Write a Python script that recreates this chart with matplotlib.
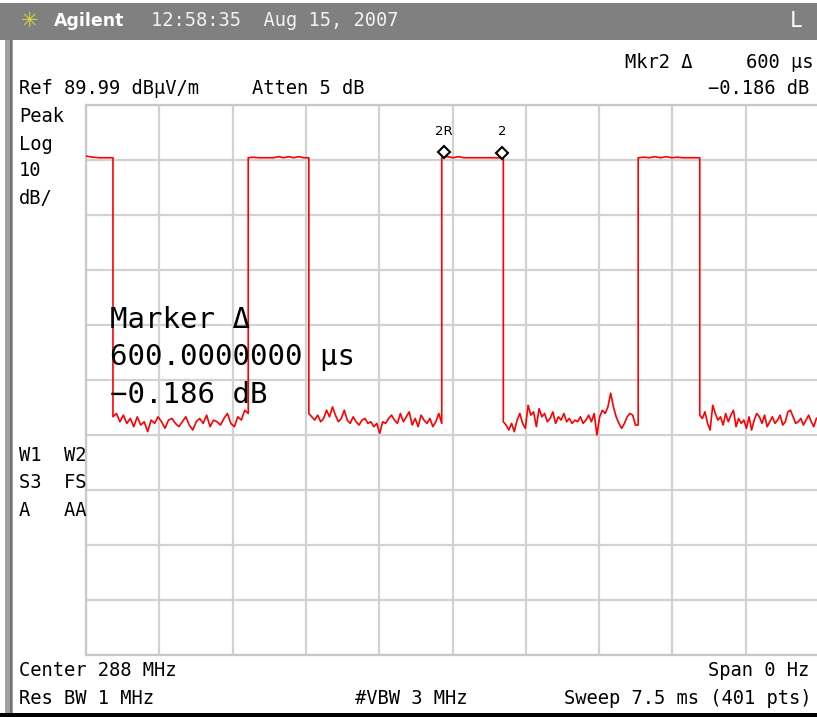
#!/usr/bin/env python3
# Agilent spectrum analyser screen: zero-span pulse capture, Mkr2 delta 600 us

import matplotlib
matplotlib.use("Agg")
import matplotlib.pyplot as plt
import matplotlib.transforms as mtransforms
from matplotlib.patches import Rectangle
import numpy as np

W, H = 817, 717

REF_LEVEL = 89.99   # dBuV/m, top graticule line
DB_PER_DIV = 10
SWEEP_MS = 7.5

# pulse edges (ms): on from t_on to t_off
pulse_on = [0.0, 1.66, 3.64, 5.65]
pulse_off = [0.276, 2.28, 4.27, 6.28]

# top of each pulse (dBuV/m)
pulse_tops = [
    [80.7, 80.5, 80.4, 80.4, 80.4],
    [80.4, 80.5, 80.4, 80.4, 80.4, 80.4, 80.6, 80.4, 80.6, 80.4, 80.6, 80.4, 80.4],
    [80.4, 80.6, 80.4, 80.6, 80.4, 80.4, 80.4, 80.4, 80.4, 80.4, 80.4, 80.4],
    [80.4, 80.5, 80.4, 80.6, 80.4, 80.6, 80.4, 80.5, 80.4, 80.4, 80.4, 80.4],
]

# noise floor between pulses (dBuV/m)
floor_1 = [33.3, 33.9, 32.4, 33.6, 32.1, 33.0, 31.5, 33.3, 31.8, 32.4, 30.6, 32.7,
           32.1, 33.3, 32.4, 31.2, 32.7, 33.0, 32.1, 31.5, 32.4, 33.3, 31.8, 30.9,
           32.4, 33.0, 32.1, 33.6, 31.5, 32.7, 32.4, 31.8, 33.0, 33.9, 32.1, 31.5,
           33.3, 32.7, 34.5, 33.9]
floor_2 = [33.9, 33.3, 32.7, 33.6, 32.4, 33.0, 34.5, 33.3, 35.1, 33.6, 32.4, 33.0,
           34.5, 32.7, 32.1, 33.3, 32.4, 31.8, 32.7, 33.0, 32.1, 32.4, 31.5, 32.1,
           30.3, 32.4, 32.1, 33.0, 33.6, 32.7, 32.1, 33.9, 32.4, 33.3, 34.2, 31.8,
           33.0, 31.5, 33.6, 32.7, 32.1, 33.0, 31.5, 32.4, 33.9, 32.1]
floor_3 = [32.4, 31.8, 30.9, 32.1, 30.6, 32.7, 33.9, 32.1, 31.2, 35.4, 33.6, 34.2,
           31.5, 34.8, 33.3, 33.9, 32.4, 33.0, 34.2, 32.1, 33.3, 32.7, 33.9, 32.4,
           33.0, 32.1, 32.7, 32.4, 33.3, 32.1, 32.7, 33.6, 32.4, 33.9, 30.0, 33.3,
           34.5, 33.9, 35.1, 37.6, 35.1, 33.3, 32.1, 31.2, 32.1, 33.3, 33.9, 33.6,
           31.8, 31.8]
floor_4 = [33.6, 33.0, 34.2, 32.1, 30.9, 35.4, 33.9, 32.7, 33.3, 31.8, 33.9, 32.4,
           33.6, 34.5, 31.5, 33.0, 32.1, 32.7, 31.2, 33.3, 30.9, 32.7, 33.9, 33.3,
           32.1, 33.6, 31.5, 32.4, 33.3, 32.1, 32.7, 33.6, 31.8, 32.4, 34.2, 34.5,
           33.3, 32.1, 32.4, 33.0, 31.8, 32.7, 33.6, 32.4, 31.5, 33.0, 33.3]
floors = [floor_1, floor_2, floor_3, floor_4]

# delta marker pair
marker_t = [3.66, 4.26]
marker_labels = ["2R", "2"]

MONO = "DejaVu Sans Mono"


def px(x, y):
    return x / W, 1 - y / H


def build_trace():
    t_all, v_all = [], []
    for i in range(len(pulse_on)):
        end = pulse_on[i + 1] if i + 1 < len(pulse_on) else SWEEP_MS
        top = pulse_tops[i]
        t_all.append(np.linspace(pulse_on[i], pulse_off[i], len(top)))
        v_all.append(top)
        low = floors[i]
        t_all.append(np.linspace(pulse_off[i], end, len(low)))
        v_all.append(low)
    return np.concatenate(t_all), np.concatenate(v_all)


fig = plt.figure(figsize=(W / 100, H / 100), dpi=100)
fig.patch.set_facecolor("white")

# header bar and frame
fig.patches.append(Rectangle(px(0, 40), 1, 37 / H, transform=fig.transFigure,
                             facecolor="#808080", edgecolor="none"))
fig.patches.append(Rectangle(px(5, H), 8 / W, (H - 40) / H, transform=fig.transFigure,
                             facecolor="#a0a0a0", edgecolor="none"))
fig.patches.append(Rectangle(px(10, H), 2 / W, (H - 40) / H, transform=fig.transFigure,
                             facecolor="#747474", edgecolor="none"))
fig.patches.append(Rectangle(px(0, H), 1, 4 / H, transform=fig.transFigure,
                             facecolor="black", edgecolor="none"))

# graticule
ax = fig.add_axes([86 / W, 1 - 655 / H, 733 / W, 550 / H])
ax.set_xlim(0, SWEEP_MS)
ax.set_ylim(REF_LEVEL - 10 * DB_PER_DIV, REF_LEVEL)
ax.set_xticks(np.arange(0, SWEEP_MS + 0.01, SWEEP_MS / 10))
ax.set_yticks(np.arange(REF_LEVEL - 10 * DB_PER_DIV, REF_LEVEL + 0.01, DB_PER_DIV))
ax.tick_params(length=0, labelbottom=False, labelleft=False)
ax.grid(True, color="#d2d2d2", lw=1.6)
for s in ax.spines.values():
    s.set_color("#c8c8c8")
    s.set_linewidth(1.6)

t, v = build_trace()
ax.plot(t, v, color="#ff0000", lw=1.2, zorder=3)

# delta markers sit on the trace
lift = mtransforms.offset_copy(ax.transData, fig=fig, x=0, y=5, units="dots")
for mt, lab in zip(marker_t, marker_labels):
    mv = np.interp(mt, t, v)
    ax.plot([mt], [mv], marker="D", ms=6.5, mfc="white", mec="black", mew=1.5,
            transform=lift, zorder=5, clip_on=False)
    ax.annotate(lab, (mt, mv), xytext=(0, 14), textcoords="offset points",
                ha="center", va="bottom", fontsize=9.5, family="DejaVu Sans")

# big marker readout drawn over the graticule
big = dict(fontsize=21, family=MONO, ha="left", va="center", color="black", zorder=6)
ax.text(*px(110, 320), "Marker \u0394", transform=fig.transFigure, **big)
ax.text(*px(110, 357), "600.0000000 \u00b5s", transform=fig.transFigure, **big)
ax.text(*px(110, 395), "\u22120.186 dB", transform=fig.transFigure, **big)

# header text
fig.text(*px(30, 21), "\u2733", color="#d8d840", fontsize=15, ha="center", va="center",
         family="DejaVu Sans")
fig.text(*px(54, 21), "Agilent", color="white", fontsize=12.5, fontweight="bold",
         ha="left", va="center", family="DejaVu Sans")
fig.text(*px(151, 21), "12:58:35  Aug 15, 2007", color="#f2f2f2", fontsize=13.5,
         ha="left", va="center", family=MONO)
fig.text(*px(796, 21), "L", color="white", fontsize=15, ha="center", va="center",
         family=MONO)

small = dict(fontsize=13.5, family=MONO, va="center", color="black")
fig.text(*px(625, 63), "Mkr2 \u0394", ha="left", **small)
fig.text(*px(814, 63), "600 \u00b5s", ha="right", **small)
fig.text(*px(19, 89), "Ref 89.99 dB\u00b5V/m", ha="left", **small)
fig.text(*px(252, 89), "Atten 5 dB", ha="left", **small)
fig.text(*px(809, 89), "\u22120.186 dB", ha="right", **small)

for y, s in [(116, "Peak"), (144, "Log"), (171, "10"), (199, "dB/"),
             (455, "W1  W2"), (483, "S3  FS"), (511, "A   AA")]:
    fig.text(*px(19, y), s, ha="left", **small)

fig.text(*px(19, 670), "Center 288 MHz", ha="left", **small)
fig.text(*px(809, 670), "Span 0 Hz", ha="right", **small)
fig.text(*px(19, 699), "Res BW 1 MHz", ha="left", **small)
fig.text(*px(355, 699), "#VBW 3 MHz", ha="left", **small)
fig.text(*px(811, 699), "Sweep 7.5 ms (401 pts)", ha="right", **small)

fig.savefig("out.png", dpi=100, facecolor=fig.get_facecolor())
